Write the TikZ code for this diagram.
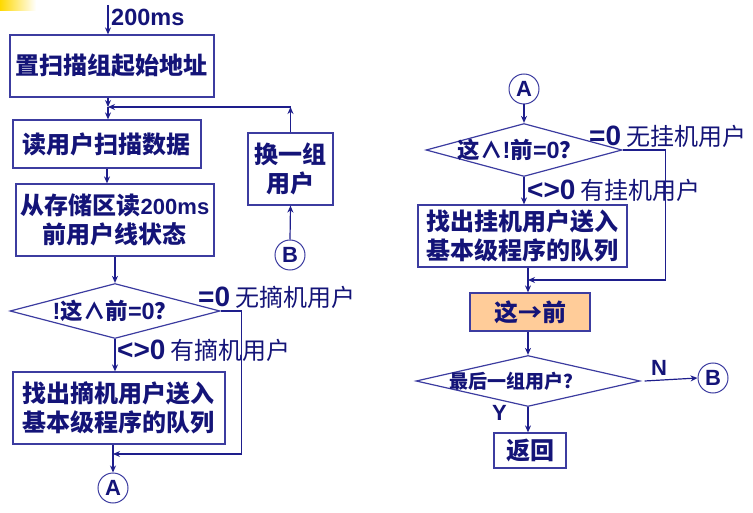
\documentclass[tikz,border=0pt]{standalone}
\usepackage{fontspec}
\setmainfont{Noto Sans CJK SC}
\newfontfamily\lat{Liberation Sans}
\usetikzlibrary{shapes.geometric,arrows.meta}
\definecolor{txt}{RGB}{20,20,120}
\definecolor{ln}{RGB}{30,30,140}
\definecolor{bd}{RGB}{60,60,160}
\definecolor{org}{RGB}{255,204,153}
\newcommand{\LB}[2]{{\mdseries\lat\bfseries\fontsize{#1}{#1}\selectfont #2}}
\tikzset{
  x=1pt,y=-1pt,
  every node/.style={text=txt,font=\bfseries\fontsize{24}{29}\selectfont},
  box/.style={draw=bd,line width=1.2pt,inner sep=0pt,align=center},
  circ/.style={draw=bd,line width=1pt,circle,minimum size=30pt,inner sep=0pt,font=\mdseries\lat\bfseries\fontsize{22}{22}\selectfont},
  dia/.style={draw=bd,line width=1.2pt,diamond,inner sep=0pt},
  arr/.style={draw=ln,line width=1.2pt,-{Stealth[length=7pt,width=6pt]}},
  ln/.style={draw=ln,line width=1.2pt},
  lab/.style={anchor=west,inner sep=0pt,font=\mdseries\fontsize{24}{27}\selectfont},
  dtext/.style={font=\bfseries\fontsize{22.5}{26}\selectfont,text=txt},
}
\begin{document}
\begin{tikzpicture}
\useasboundingbox (0,0) rectangle (753,513);
\shade[left color=yellow!70!orange,right color=white] (0,0) rectangle (36,11);
% left column
\coordinate (s) at (108,5);
\node[lab] (t200) at (111,17) {\LB{23.5}{200ms}};
\node[box,minimum width=204pt,minimum height=62pt] (b1) at (112,66) {置扫描组起始地址};
\node[box,minimum width=188pt,minimum height=48pt] (b2) at (107,144) {读用户扫描数据};
\node[box,minimum width=198pt,minimum height=72pt] (b3) at (115,220) {从存储区读\LB{22}{200ms}\\前用户线状态};
\node[box,minimum width=85pt,minimum height=72pt] (hx) at (290.5,169) {换一组\\用户};
\node[circ] (cb1) at (290,255) {B};
\node[dia,minimum width=210pt,minimum height=55pt,label={[dtext]center:\LB{23.5}{!}这∧前\LB{23.5}{=0}？}] (d1) at (115,311) {};
\node[lab] (l1) at (198,297) {\LB{28}{=0} 无摘机用户};
\node[lab] (l2) at (117,350) {\LB{28}{<>0} 有摘机用户};
\node[box,minimum width=212pt,minimum height=72pt] (b4) at (119,408) {找出摘机用户送入\\基本级程序的队列};
\node[circ] (ca1) at (113,488) {A};
\coordinate (j1) at (108,107);
\coordinate (j2) at (113,454);
\draw[arr] (s) -- (s |- b1.north);
\draw[arr] (b1.south -| j1) -- (j1);
\draw[arr] (hx.north) -- (hx.north |- j1);
\draw[arr] (hx.north |- j1) -- (j1);
\draw[arr] (j1) -- (j1 |- b2.north);
\draw[arr] (b2.south) -- (b2.south |- b3.north);
\draw[arr] (b3.south -| d1.north) -- (d1.north);
\draw[arr] (cb1.north) -- (hx.south);
\draw[arr] (d1.south) -- (d1.south |- b4.north);
\draw[arr] (d1.east) -- ++(21,0) |- (j2);
\draw[arr] (b4.south -| j2) -- (ca1.north);
% right column
\node[circ] (ca2) at (524,89) {A};
\node[dia,minimum width=196pt,minimum height=53pt,label={[dtext,xshift=-4pt]center:这∧\LB{23.5}{!}前\LB{23.5}{=0}？}] (d2) at (524,150) {};
\node[lab] (l3) at (589,136) {\LB{28}{=0} 无挂机用户};
\node[lab] (l4) at (527,190) {\LB{28}{<>0} 有挂机用户};
\node[box,minimum width=209pt,minimum height=62pt] (b5) at (522.5,236) {找出挂机用户送入\\基本级程序的队列};
\node[box,fill=org,minimum width=120pt,minimum height=38pt] (b6) at (530,312) {这→前};
\node[dia,minimum width=224pt,minimum height=51pt,label={[font=\bfseries\fontsize{19}{22}\selectfont,text=txt,xshift=-12pt]center:最后一组用户？}] (d3) at (528,381) {};
\node[circ] (cb2) at (713,378) {B};
\node[lab] (ln) at (651,368) {\LB{22}{N}};
\node[lab] (ly) at (492,413) {\LB{22}{Y}};
\node[box,minimum width=72pt,minimum height=35pt] (ret) at (530,450.5) {返回};
\coordinate (j3) at (528,280);
\draw[arr] (ca2.south) -- (d2.north);
\draw[arr] (d2.south) -- (d2.south |- b5.north);
\draw[arr] (d2.east) -- ++(43,0) |- (j3);
\draw[ln] (b5.south -| j3) -- (j3);
\draw[arr] (j3) -- (j3 |- b6.north);
\draw[arr] (b6.south -| d3.north) -- (d3.north);
\draw[arr] ([xshift=4pt]d3.east) -- (cb2.west);
\draw[arr] (d3.south) -- (d3.south |- ret.north);
\end{tikzpicture}
\end{document}
